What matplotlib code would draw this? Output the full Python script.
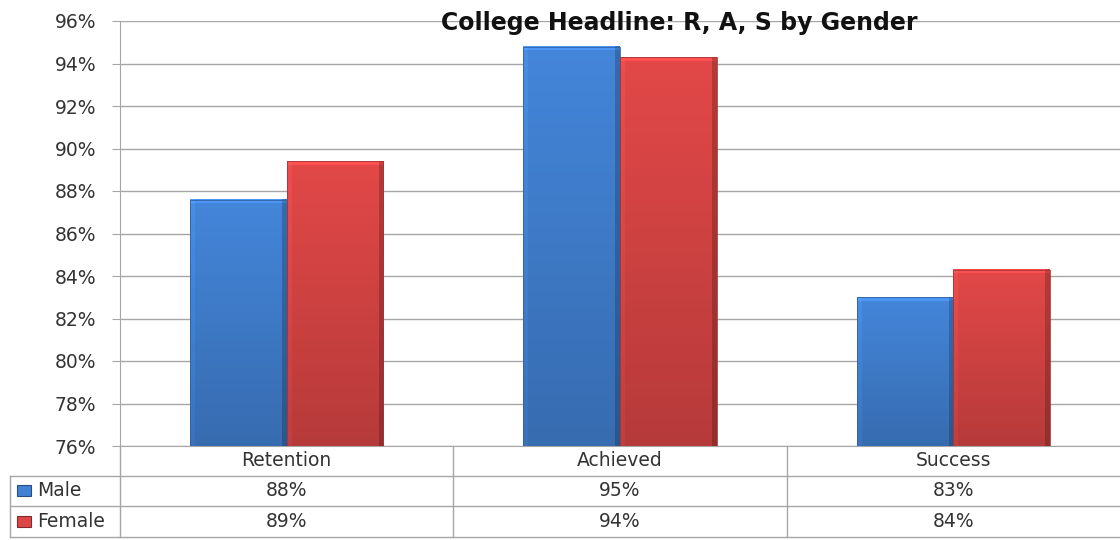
import numpy as np
import matplotlib.pyplot as plt
from matplotlib.colors import to_rgb
from matplotlib.lines import Line2D
from matplotlib.patches import Rectangle

plt.rcParams["font.family"] = "DejaVu Sans"

categories = ["Retention", "Achieved", "Success"]
series = ["Male", "Female"]
male = [87.6, 94.8, 83.0]
female = [89.4, 94.3, 84.3]
series_values = [male, female]
series_colors = ["#4282d4", "#dc4646"]
yticks = list(range(76, 97, 2))

W, H = 1120, 540
fig = plt.figure(figsize=(W / 100, H / 100), dpi=100)


def fx(px):
    return px / W


def fy(py):
    return 1 - py / H


# plot area in pixel terms
left, top, right, bottom = 120, 21, 1120, 446
ax = fig.add_axes([fx(left), fy(bottom), fx(right - left), (bottom - top) / H])
ymin, ymax = 76, 96
px_per_unit = (bottom - top) / (ymax - ymin)


def bevel_image(color, h_px, w_px):
    """Shaded bar face: lighter top edge and left edge, darker right side and bottom."""
    base = np.array(to_rgb(color))
    rows = max(int(round(h_px)), 2)
    cols = max(int(round(w_px)), 2)
    yy = np.linspace(0, 1, rows)[:, None]
    xx = np.arange(cols)[None, :]
    f = np.ones((rows, cols)) * (1.03 - 0.2 * yy)
    f = np.where(xx < 5, f * 1.06, f)
    f = np.where(xx >= cols - 5, f * 0.8, f)
    f[:4, :] *= 1.12
    return np.clip(base[None, None, :] * f[..., None], 0, 1)


x = np.arange(len(categories))
width = 0.29
bar_px_w = width * (right - left) / len(categories)
for i, (vals, col) in enumerate(zip(series_values, series_colors)):
    offs = (i - 0.5) * width
    bars = ax.bar(x + offs, [v - ymin for v in vals], width, bottom=ymin,
                  facecolor="none", edgecolor="none", zorder=3)
    for b, v in zip(bars, vals):
        x0 = b.get_x()
        img = bevel_image(col, (v - ymin) * px_per_unit, bar_px_w)
        ax.imshow(img, extent=(x0, x0 + width, ymin, v), aspect="auto",
                  origin="upper", zorder=3, interpolation="bilinear")
        ax.add_patch(Rectangle((x0, ymin), width, v - ymin, fill=False,
                               edgecolor=np.array(to_rgb(col)) * 0.75,
                               linewidth=0.6, zorder=4))
ax.set_xlim(-0.5, len(categories) - 0.5)
ax.set_ylim(ymin, ymax)

grid_col = "#a6a6a6"
text_col = "#333333"
ax.set_yticks(yticks)
ax.set_yticklabels([f"{t}%" for t in yticks])
ax.yaxis.grid(True, color=grid_col, linewidth=1)
ax.set_axisbelow(True)
ax.set_xticks([])
ax.tick_params(axis="y", length=6, color=grid_col, pad=11, labelsize=13.5,
               labelcolor=text_col)
for s in ["top", "right"]:
    ax.spines[s].set_visible(False)
for s in ["left", "bottom"]:
    ax.spines[s].set_color(grid_col)

fig.text(fx(679), fy(23), "College Headline: R, A, S by Gender",
         ha="center", va="center", fontsize=17, fontweight="bold",
         color="#111111")

# data table below the plot
col_edges = [left + k * (right - left) / len(categories) for k in range(len(categories) + 1)]
row_edges = [446, 476, 506, 537]
tab_left = 10


def hline(y, x0, x1):
    fig.add_artist(Line2D([fx(x0), fx(x1)], [fy(y), fy(y)], color=grid_col,
                          linewidth=1, transform=fig.transFigure))


def vline(xp, y0, y1):
    fig.add_artist(Line2D([fx(xp), fx(xp)], [fy(y0), fy(y1)], color=grid_col,
                          linewidth=1, transform=fig.transFigure))


for y in row_edges[1:]:
    hline(y, tab_left, right)
for xe in col_edges[:-1]:
    vline(xe, row_edges[0], row_edges[-1])
vline(tab_left, row_edges[1], row_edges[-1])

txt_kw = dict(ha="center", va="center", fontsize=13.5, color=text_col)
for j, cat in enumerate(categories):
    cx = (col_edges[j] + col_edges[j + 1]) / 2
    fig.text(fx(cx), fy((row_edges[0] + row_edges[1]) / 2), cat, **txt_kw)
    for i, vals in enumerate(series_values):
        cy = (row_edges[i + 1] + row_edges[i + 2]) / 2
        fig.text(fx(cx), fy(cy), f"{vals[j]:.0f}%", **txt_kw)

for i, (name, col) in enumerate(zip(series, series_colors)):
    cy = (row_edges[i + 1] + row_edges[i + 2]) / 2
    fig.add_artist(Rectangle((fx(17), fy(cy + 5)), fx(14), 11 / H,
                             facecolor=col, edgecolor=np.array(to_rgb(col)) * 0.6,
                             linewidth=0.8, transform=fig.transFigure))
    fig.text(fx(37), fy(cy), name, ha="left", va="center", fontsize=13.5,
             color=text_col)

fig.savefig("out.png", dpi=100)
